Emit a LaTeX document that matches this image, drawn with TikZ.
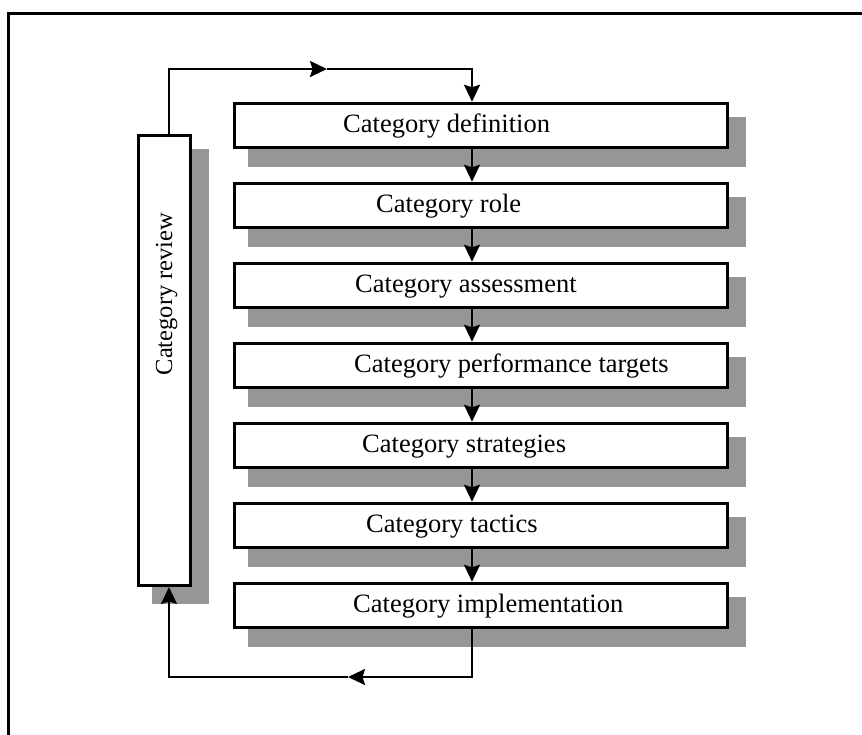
\documentclass[tikz,border=0pt]{standalone}
\usepackage{fontspec}
\setmainfont{Liberation Serif}
\usetikzlibrary{arrows.meta,calc}
\definecolor{shadowgray}{RGB}{150,150,150}
\pgfdeclarelayer{bg}
\pgfsetlayers{bg,main}
\begin{document}
\begin{tikzpicture}[x=1pt,y=-1pt,
  stepbox/.style={draw, line width=3pt, fill=white, minimum width=493pt, minimum height=44pt, inner sep=0pt},
  lbl/.style={anchor=base west, inner sep=0pt, font=\fontsize{26.5}{30}\selectfont},
  arr/.style={line width=2pt, -{Stealth[length=17pt,width=16pt,inset=2.5pt]}},
  shadowbox/.style={fill=shadowgray}]
\useasboundingbox (0,0) rectangle (862,734);
\draw[line width=3pt] (8.5,745) -- (8.5,13) -- (875,13);

% review box
\node[stepbox, minimum width=52pt, minimum height=450pt] (rev) at (164.5,360.5) {};
\node[rotate=90, anchor=base, inner sep=0pt, font=\fontsize{24.5}{28}\selectfont] (revt) at (172,294) {Category review};

% step boxes
\foreach \i in {1,...,7} {
  \node[stepbox] (b\i) at (480.5,{125.25+80*(\i-1)}) {};
}
\node[lbl] (t1) at (343,132) {Category definition};
\node[lbl] (t2) at (376,212) {Category role};
\node[lbl] (t3) at (355,292) {Category assessment};
\node[lbl] (t4) at (354,372) {Category performance targets};
\node[lbl] (t5) at (362,452) {Category strategies};
\node[lbl] (t6) at (366,532) {Category tactics};
\node[lbl] (t7) at (353,612) {Category implementation};

% shadows
\begin{pgfonlayer}{bg}
  \fill[shadowbox] ([shift={(15,15)}]rev.north west) rectangle ([shift={(17,17)}]rev.south east);
  \foreach \i in {1,...,7} {
    \fill[shadowbox] ([shift={(15,15)}]b\i.north west) rectangle ([shift={(17,18)}]b\i.south east);
  }
\end{pgfonlayer}

% connectors
\coordinate (m1) at (327,69);
\coordinate (m2) at (348,677);
\draw[arr] ([xshift=4.5pt]rev.north) |- (m1);
\draw[arr] (m1) -| ([xshift=-8.5pt]b1.north);
\foreach \i/\j in {1/2,2/3,3/4,4/5,5/6,6/7} {
  \draw[arr] ([xshift=-8.5pt]b\i.south) -- ([xshift=-8.5pt]b\j.north);
}
\draw[arr] ([xshift=-8.5pt]b7.south) |- (m2);
\draw[arr] (m2) -| ([xshift=4.5pt]rev.south);
\end{tikzpicture}
\end{document}
